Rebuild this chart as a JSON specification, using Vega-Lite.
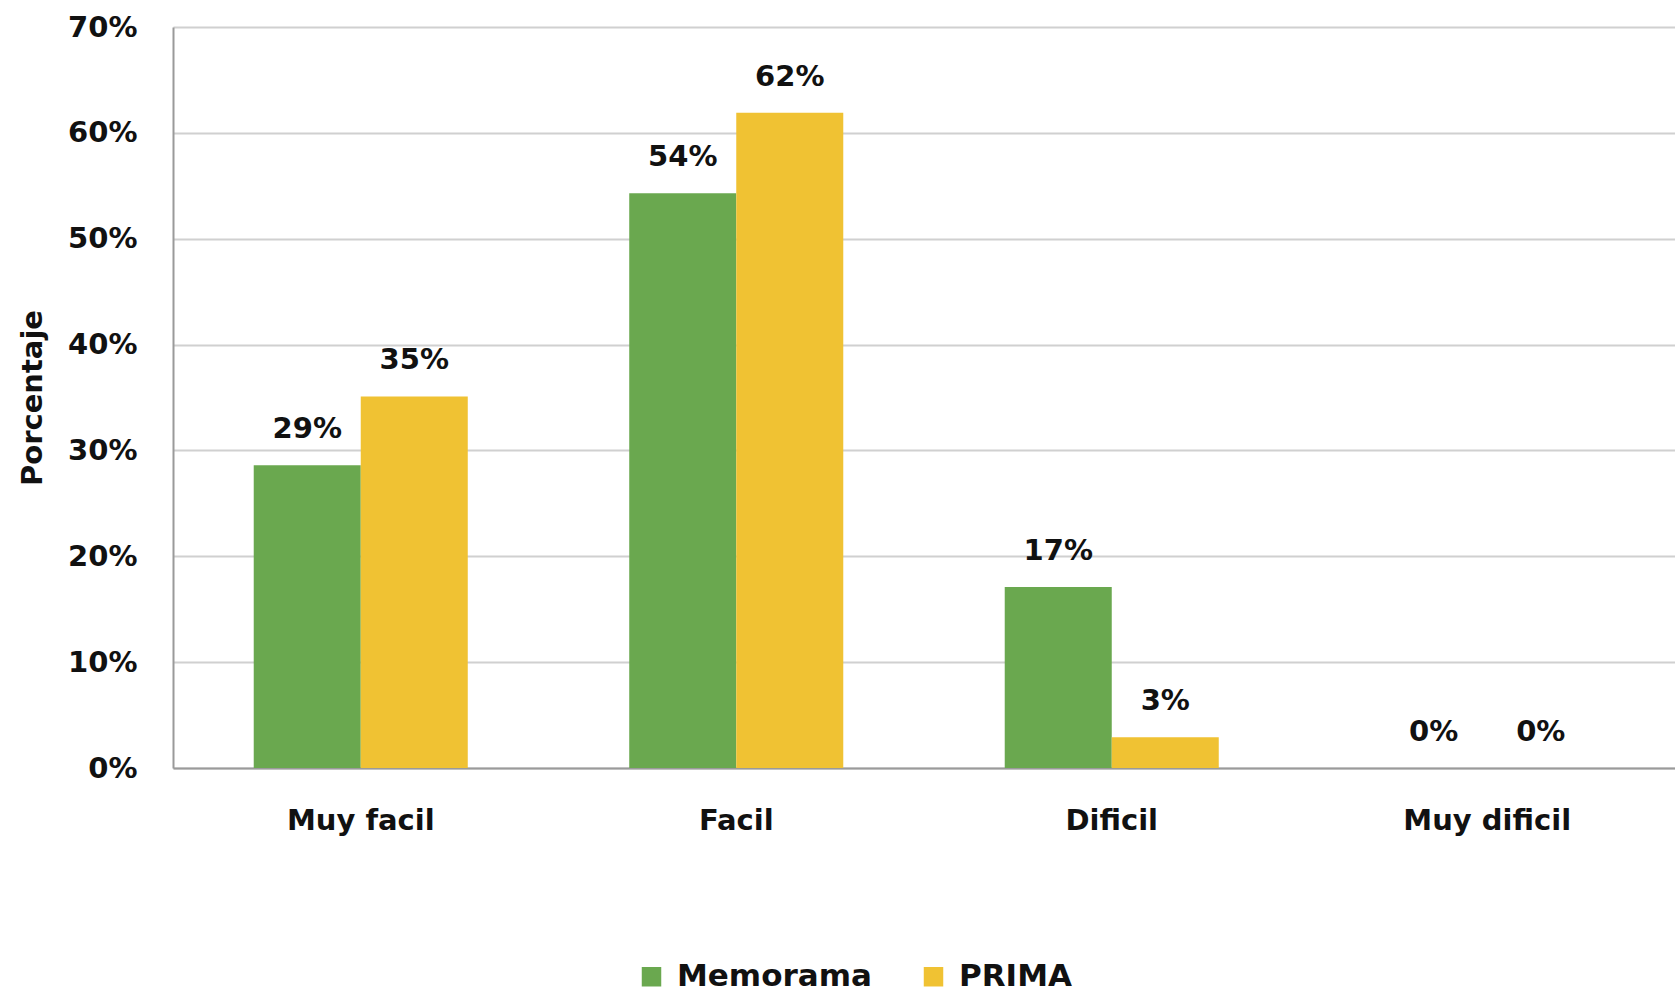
{
  "$schema": "https://vega.github.io/schema/vega-lite/v6.json",
  "autosize": "none",
  "padding": {"left": 173, "top": 27, "right": 0, "bottom": 226},
  "width": 1502,
  "height": 741,
  "background": "white",
  "config": {
    "font": "DejaVu Sans",
    "view": {"stroke": null},
    "axis": {"labelFont": "DejaVu Sans", "titleFont": "DejaVu Sans", "labelFontWeight": "bold", "titleFontWeight": "bold", "labelColor": "#111", "titleColor": "#111", "labelOverlap": false}
  },
  "data": {
    "values": [
      {"categoria": "Muy facil", "grupo": "Memorama", "valor": 0.286},
      {"categoria": "Muy facil", "grupo": "PRIMA", "valor": 0.351},
      {"categoria": "Facil", "grupo": "Memorama", "valor": 0.543},
      {"categoria": "Facil", "grupo": "PRIMA", "valor": 0.619},
      {"categoria": "Dificil", "grupo": "Memorama", "valor": 0.171},
      {"categoria": "Dificil", "grupo": "PRIMA", "valor": 0.029},
      {"categoria": "Muy dificil", "grupo": "Memorama", "valor": 0},
      {"categoria": "Muy dificil", "grupo": "PRIMA", "valor": 0}
    ]
  },
  "encoding": {
    "x": {
      "field": "categoria", "type": "nominal",
      "sort": ["Muy facil", "Facil", "Dificil", "Muy dificil"],
      "scale": {"paddingInner": 0.43, "paddingOuter": 0.215},
      "axis": {"title": null, "labelAngle": 0, "labelFontSize": 29, "labelPadding": 38, "ticks": false, "domainColor": "#9a9a9a", "domainWidth": 2, "grid": false}
    },
    "xOffset": {"field": "grupo", "type": "nominal", "sort": ["Memorama", "PRIMA"], "scale": {"paddingInner": 0, "paddingOuter": 0}},
    "y": {
      "field": "valor", "type": "quantitative",
      "scale": {"domain": [0, 0.7]},
      "axis": {"title": "Porcentaje", "titleFontSize": 29, "titleX": -141, "titleBaseline": "middle", "format": ".0%", "values": [0, 0.1, 0.2, 0.3, 0.4, 0.5, 0.6, 0.7], "labelFontSize": 29, "labelPadding": 36, "ticks": false, "domainColor": "#9a9a9a", "domainWidth": 2, "gridColor": "#d0d0d0", "gridWidth": 2}
    }
  },
  "layer": [
    {
      "mark": {"type": "bar"},
      "encoding": {
        "color": {
          "field": "grupo", "type": "nominal",
          "scale": {"domain": ["Memorama", "PRIMA"], "range": ["#6aa84f", "#f0c233"]},
          "legend": {"title": null, "orient": "none", "direction": "horizontal", "legendX": 463, "legendY": 934, "symbolType": "square", "symbolSize": 380, "symbolStrokeWidth": 0, "labelFontSize": 31, "labelFont": "DejaVu Sans", "labelFontWeight": "bold", "labelColor": "#111", "labelLimit": 400, "columnPadding": 46, "labelOffset": 10}
        }
      }
    },
    {
      "mark": {"type": "text", "baseline": "bottom", "dy": -21, "fontSize": 29, "fontWeight": "bold", "font": "DejaVu Sans", "color": "#111"},
      "encoding": {"text": {"field": "valor", "type": "quantitative", "format": ".0%"}}
    }
  ]
}
